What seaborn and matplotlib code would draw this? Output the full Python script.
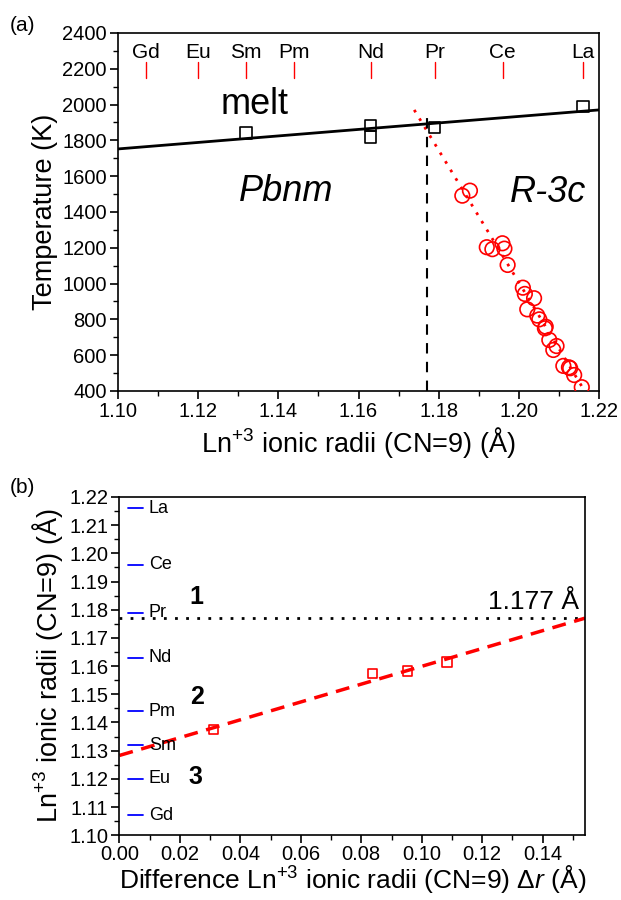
import numpy as np
import pandas as pd
import matplotlib
matplotlib.use("Agg")
import matplotlib.pyplot as plt
import seaborn as sns
from matplotlib.ticker import MultipleLocator, FormatStrFormatter

sns.set_theme(style="ticks")
plt.rcParams['font.family'] = ['Liberation Sans', 'DejaVu Sans']
plt.rcParams['mathtext.fontset'] = 'custom'
plt.rcParams['mathtext.rm'] = 'Liberation Sans'
plt.rcParams['mathtext.it'] = 'Liberation Sans:italic'
plt.rcParams['text.color'] = 'black'
plt.rcParams['axes.labelcolor'] = 'black'
plt.rcParams['xtick.color'] = 'black'
plt.rcParams['ytick.color'] = 'black'

# ---------------- data ----------------
elements = ["Gd", "Eu", "Sm", "Pm", "Nd", "Pr", "Ce", "La"]
radii = [1.107, 1.120, 1.132, 1.144, 1.163, 1.179, 1.196, 1.216]

melt_r = [1.132, 1.163, 1.163, 1.179, 1.216]
melt_T = [1840, 1882, 1817, 1871, 1990]
melt_line_r = [1.10, 1.22]
melt_line_T = [1752, 1970]

trans_r = [1.1859, 1.1878, 1.1920, 1.1934, 1.1959, 1.1964, 1.1972, 1.2010,
           1.2015, 1.2038, 1.2021, 1.2046, 1.2051, 1.2067, 1.2065, 1.2076,
           1.2094, 1.2086, 1.2111, 1.2125, 1.2128, 1.2138, 1.2157]
trans_T = [1491, 1519, 1203, 1192, 1225, 1195, 1104, 977,
           942, 918, 856, 821, 800, 759, 750, 685,
           651, 629, 540, 532, 527, 489, 421]
trans_line_r = [1.1739, 1.2160]
trans_line_T = [1970, 415]

r_crit = 1.177
vline_T = [400, 1930]

dr = [0.031, 0.0836, 0.0953, 0.1083]
r_b = [1.1375, 1.1573, 1.1583, 1.1615]
fit_dr = [0.0, 0.154]
fit_r = [1.1283, 1.177]

region_labels = ["1", "2", "3"]
region_x = [0.0256, 0.0256, 0.0250]
region_y = [1.1844, 1.1490, 1.1208]

# ---------------- figure ----------------
fig = plt.figure(figsize=(6.21, 9.0), dpi=100)
ax1 = fig.add_axes([0.190, 0.5656, 0.7746, 0.3978])
ax2 = fig.add_axes([0.1924, 0.0720, 0.7496, 0.3758])

# ---- panel (a) ----
sns.lineplot(x=melt_line_r, y=melt_line_T, ax=ax1, color="black", lw=2)
sns.lineplot(x=trans_line_r, y=trans_line_T, ax=ax1, color="red", lw=2,
             linestyle=(0, (1, 2.6)))
ax1.plot([r_crit, r_crit], vline_T, color="black", lw=1.5, linestyle=(0, (5, 4)))
sns.scatterplot(x=melt_r, y=melt_T, ax=ax1, marker="s", s=70,
                facecolor="none", edgecolor="black", linewidth=1.2, zorder=5)
sns.scatterplot(x=trans_r, y=trans_T, ax=ax1, marker="o", s=110,
                facecolor="none", edgecolor="red", linewidth=1.2, zorder=5)
for el, r in zip(elements, radii):
    ax1.plot([r, r], [2150, 2240], color="red", lw=1)
    ax1.text(r, 2290, el, ha="center", va="center", fontsize=15)
ax1.text(1.1342, 2000, "melt", ha="center", va="center", fontsize=26)
ax1.text(1.142, 1512, "Pbnm", ha="center", va="center", fontsize=26, style="italic")
ax1.text(1.2073, 1506, "R-3c", ha="center", va="center", fontsize=26, style="italic")

ax1.set_xlim(1.10, 1.22)
ax1.set_ylim(400, 2400)
ax1.xaxis.set_major_locator(MultipleLocator(0.02))
ax1.xaxis.set_minor_locator(MultipleLocator(0.01))
ax1.yaxis.set_major_locator(MultipleLocator(200))
ax1.yaxis.set_minor_locator(MultipleLocator(100))
ax1.xaxis.set_major_formatter(FormatStrFormatter("%.2f"))
ax1.set_xlabel("Ln$^{+3}$ ionic radii (CN=9) (Å)", fontsize=19.5)
ax1.set_ylabel("Temperature (K)", fontsize=19.5)

# ---- panel (b) ----
ax2.axhline(r_crit, color="black", lw=2, linestyle=(0, (1, 3)))
sns.lineplot(x=fit_dr, y=fit_r, ax=ax2, color="red", lw=2.5,
             linestyle=(0, (4, 2.5)))
sns.scatterplot(x=dr, y=r_b, ax=ax2, marker="s", s=45,
                facecolor="none", edgecolor="red", linewidth=1.2, zorder=5)
for el, r in zip(elements, radii):
    ax2.plot([0.0028, 0.0077], [r, r], color="blue", lw=1.3)
    ax2.text(0.0097, r, el, ha="left", va="center", fontsize=13)
for lab, x, y in zip(region_labels, region_x, region_y):
    ax2.text(x, y, lab, ha="center", va="center", fontsize=18, fontweight="bold")
ax2.text(0.152, 1.1785, "1.177 Å", ha="right", va="bottom", fontsize=19)

ax2.set_xlim(0.0, 0.154)
ax2.set_ylim(1.10, 1.22)
ax2.xaxis.set_major_locator(MultipleLocator(0.02))
ax2.xaxis.set_minor_locator(MultipleLocator(0.01))
ax2.yaxis.set_major_locator(MultipleLocator(0.01))
ax2.yaxis.set_minor_locator(MultipleLocator(0.005))
ax2.xaxis.set_major_formatter(FormatStrFormatter("%.2f"))
ax2.yaxis.set_major_formatter(FormatStrFormatter("%.2f"))
ax2.set_xlabel("Difference Ln$^{+3}$ ionic radii (CN=9) $\\Delta r$ (Å)", fontsize=19)
ax2.set_ylabel("Ln$^{+3}$ ionic radii (CN=9) (Å)", fontsize=19.5)

for ax in (ax1, ax2):
    for sp in ax.spines.values():
        sp.set_color("black")
        sp.set_linewidth(1.2)
    ax.tick_params(which="major", direction="out", length=6, width=1.2,
                   labelsize=14.5, colors="black", pad=2)
    ax.tick_params(which="minor", direction="out", length=3.5, width=1.0,
                   colors="black")
    ax.xaxis.labelpad = 3
    ax.yaxis.labelpad = 3
ax2.tick_params(axis="x", which="major", pad=1)
ax2.xaxis.labelpad = -1

fig.text(0.016, 0.972, "(a)", fontsize=15, va="center")
fig.text(0.016, 0.458, "(b)", fontsize=15, va="center")

fig.savefig("out.png", dpi=100)
